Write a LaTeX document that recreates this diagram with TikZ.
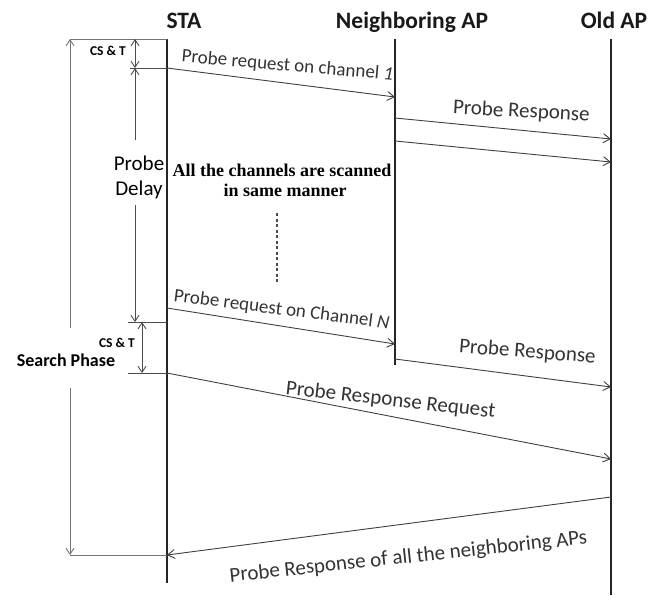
\documentclass[tikz,border=0pt]{standalone}
\usepackage{fontspec}
\setmainfont{Carlito}
\newfontfamily\serifbold{Liberation Serif}
\usetikzlibrary{arrows.meta}
\begin{document}
\begin{tikzpicture}[x=1pt,y=-1pt,
  lifeline/.style={line width=1.8pt, draw=black!85},
  msg/.style={line width=0.9pt, draw=black!75, -{Straight Barb[length=7pt,width=9pt,line width=0.9pt]}},
  dimline/.style={line width=0.9pt, draw=black!70},
  dimarr/.style={dimline, -{Straight Barb[length=6pt,width=8pt,line width=0.9pt]}},
  dimboth/.style={dimline, {Straight Barb[length=6pt,width=8pt,line width=0.9pt]}-{Straight Barb[length=6pt,width=8pt,line width=0.9pt]}},
  phase/.style={line width=0.9pt, draw=black!55},
  phasearr/.style={phase, -{Straight Barb[length=6pt,width=8pt,line width=0.9pt]}},
  head/.style={anchor=base, inner sep=0pt, text=black!90, font=\fontsize{23.5}{25}\selectfont\bfseries},
  lbl/.style={anchor=base, inner sep=0pt, text=black!80, font=\fontsize{21}{23}\selectfont},
  lblsmall/.style={anchor=base, inner sep=0pt, text=black!80, font=\fontsize{19}{21}\selectfont},
  cst/.style={anchor=base, inner sep=0pt, font=\fontsize{13.5}{15}\selectfont\bfseries},
  note/.style={anchor=base, inner sep=0pt, font=\fontsize{18}{20}\selectfont\serifbold\bfseries}
]
\useasboundingbox (0,0) rectangle (660,595);
\fill[white] (0,0) rectangle (660,595);

% headers
\node[head] (sta) at (184,28) {STA};
\node[head] (nap) at (412,28) {Neighboring AP};
\node[head] (oap) at (614,28) {Old AP};

% lifelines
\coordinate (staT) at (167,39);
\coordinate (staB) at (167,583);
\coordinate (napT) at (395,39);
\coordinate (napB) at (395,365);
\coordinate (oapT) at (611,39);
\coordinate (oapB) at (611,595);
\draw[lifeline] (staT) -- (staB);
\draw[lifeline] (napT) -- (napB);
\draw[lifeline] (oapT) -- (oapB);

% message endpoints
\coordinate (s1) at (167,68);
\coordinate (n1) at (395,97);
\coordinate (n2) at (395,118);
\coordinate (o2) at (611,139);
\coordinate (n3) at (395,141);
\coordinate (o3) at (611,162);
\coordinate (s4) at (167,308);
\coordinate (n4) at (395,344);
\coordinate (n5) at (395,359);
\coordinate (o5) at (611,387);
\coordinate (s6) at (167,373);
\coordinate (o6) at (611,459);
\coordinate (o7) at (611,497);
\coordinate (s7) at (167,555);

\draw[msg] (s1) -- (n1);
\draw[msg] (n2) -- (o2);
\draw[msg] (n3) -- (o3);
\draw[msg] (s4) -- (n4);
\draw[msg] (n5) -- (o5);
\draw[msg] (s6) -- (o6);
\draw[msg] (o7) -- (s7);

% message labels
\node[lblsmall, rotate=-5] (l1) at (287,71) {Probe request on channel \textit{1}};
\node[lbl, rotate=-3] (l2) at (521,117.5) {Probe Response};
\node[lblsmall, rotate=-7.3] (l4) at (281,315) {Probe request on Channel \textit{N}};
\node[lbl, rotate=-4.4] (l5) at (527,358) {Probe Response};
\node[lbl, rotate=-6.4] (l6) at (390,406) {Probe Response Request};
\node[lbl, rotate=6.1] (l7) at (409,563) {Probe Response of all the neighboring APs};

% note
\node[note] (nt1) at (282,176) {All the channels are scanned};
\node[note] (nt2) at (285,196) {in same manner};
\coordinate (dotT) at (277,213);
\coordinate (dotB) at (277,283);
\draw[line width=1.2pt, black!70, dash pattern=on 3pt off 2.5pt] (dotT) -- (dotB);

% search phase bracket
\coordinate (spT) at (70,39);
\coordinate (spM1) at (70,328);
\coordinate (spM2) at (70,388);
\coordinate (spB) at (70,555);
\draw[phase] (spT) -- (staT);
\draw[phasearr] (spM1) -- (spT);
\draw[phasearr] (spM2) -- (spB);
\draw[phase] (spB) -- (s7);
\node[anchor=base, inner sep=0pt, font=\fontsize{18}{20}\selectfont\bfseries] (sp) at (66,366) {Search Phase};

% CS & T (top)
\coordinate (c1T) at (135,39);
\coordinate (c1B) at (135,68);
\coordinate (h1) at (130,68);
\draw[dimboth] (c1T) -- (c1B);
\draw[dimline] (h1) -- (s1);
\node[cst] (cs1) at (108,55) {CS \& T};

% probe delay
\coordinate (pdT) at (135,68);
\coordinate (pdM1) at (135,140);
\coordinate (pdM2) at (135,205);
\coordinate (pdB) at (135,322);
\draw[dimarr] (pdM1) -- (pdT);
\draw[dimarr] (pdM2) -- (pdB);
\node[lbl, text=black] (pd1) at (139,170) {Probe};
\node[lbl, text=black] (pd2) at (139,195) {Delay};

% CS & T (lower)
\coordinate (h2) at (128,322);
\coordinate (h2e) at (167,322);
\coordinate (h3) at (128,373);
\coordinate (c2T) at (142,322);
\coordinate (c2B) at (142,373);
\draw[dimline] (h2) -- (h2e);
\draw[dimline] (h3) -- (s6);
\draw[dimboth] (c2T) -- (c2B);
\node[cst] (cs2) at (117,347) {CS \& T};
\end{tikzpicture}
\end{document}
